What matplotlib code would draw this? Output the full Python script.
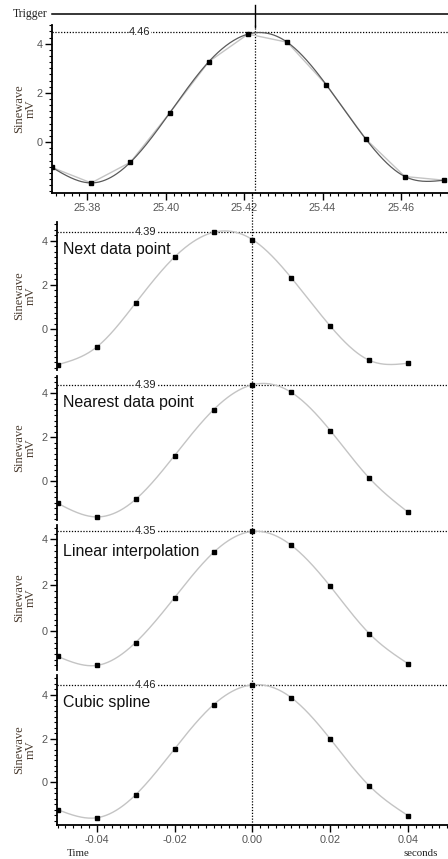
import numpy as np
import matplotlib
matplotlib.use('Agg')
import matplotlib.pyplot as plt
import matplotlib.transforms as mtransforms
from matplotlib.lines import Line2D
from matplotlib.ticker import MultipleLocator, FixedLocator, FormatStrFormatter

plt.rcParams['font.family'] = ['Liberation Sans', 'DejaVu Sans']
plt.rcParams['axes.unicode_minus'] = False

SERIF = ['Liberation Serif', 'DejaVu Serif']

# raw recording around the trigger (top panel)
raw_time = [25.371, 25.381, 25.391, 25.401, 25.411, 25.421,
            25.431, 25.441, 25.451, 25.461, 25.471]
raw_mv = [-1.03, -1.66, -0.82, 1.18, 3.27, 4.39, 4.06, 2.32, 0.13, -1.40, -1.55]
trigger_time = 25.4227
trigger_peak = 4.46

# aligned traces (time relative to trigger)
offset_time = [-0.05, -0.04, -0.03, -0.02, -0.01, 0.00, 0.01, 0.02, 0.03, 0.04]
next_mv = [-1.62, -0.82, 1.18, 3.27, 4.39, 4.06, 2.32, 0.13, -1.42, -1.55]
nearest_mv = [-1.02, -1.64, -0.84, 1.16, 3.25, 4.39, 4.04, 2.30, 0.13, -1.43]
linear_mv = [-1.11, -1.50, -0.50, 1.46, 3.43, 4.35, 3.74, 1.95, -0.11, -1.43]
spline_mv = [-1.25, -1.62, -0.57, 1.53, 3.55, 4.46, 3.87, 1.98, -0.16, -1.53]

panel_titles = ['Next data point', 'Nearest data point', 'Linear interpolation', 'Cubic spline']
panel_peaks = [4.39, 4.39, 4.35, 4.46]
panel_series = [next_mv, nearest_mv, linear_mv, spline_mv]

W, H = 448, 859
DOT = (0, (1, 1.3))


def natural_spline(x, y, num=400):
    x = np.asarray(x, float)
    y = np.asarray(y, float)
    n = len(x)
    h = np.diff(x)
    A = np.zeros((n, n))
    b = np.zeros(n)
    A[0, 0] = A[-1, -1] = 1
    for i in range(1, n - 1):
        A[i, i - 1] = h[i - 1]
        A[i, i] = 2 * (h[i - 1] + h[i])
        A[i, i + 1] = h[i]
        b[i] = 6 * ((y[i + 1] - y[i]) / h[i] - (y[i] - y[i - 1]) / h[i - 1])
    M = np.linalg.solve(A, b)
    xs = np.linspace(x[0], x[-1], num)
    idx = np.clip(np.searchsorted(x, xs) - 1, 0, n - 2)
    x0, x1 = x[idx], x[idx + 1]
    hh = x1 - x0
    a = (x1 - xs) / hh
    bb = (xs - x0) / hh
    ys = a * y[idx] + bb * y[idx + 1] + ((a ** 3 - a) * M[idx] + (bb ** 3 - bb) * M[idx + 1]) * hh ** 2 / 6
    return xs, ys


def px_axes(left, top, bottom):
    return [left / W, 1 - bottom / H, 1 - left / W, (bottom - top) / H]


def style_axis(ax, show_x):
    ax.spines['top'].set_visible(False)
    ax.spines['right'].set_visible(False)
    ax.spines['left'].set_linewidth(1.3)
    ax.yaxis.set_major_locator(FixedLocator([0, 2, 4]))
    ax.yaxis.set_minor_locator(MultipleLocator(0.25))
    ax.tick_params(which='major', length=5, width=1, labelsize=7.8,
                   labelcolor='#555555', pad=2)
    ax.tick_params(which='minor', length=2.5, width=0.8)
    ax.xaxis.set_major_formatter(FormatStrFormatter('%.2f'))
    ax.xaxis.set_major_locator(MultipleLocator(0.02))
    ax.xaxis.set_minor_locator(MultipleLocator(0.002))
    if show_x:
        ax.spines['bottom'].set_linewidth(1.3)
    else:
        ax.spines['bottom'].set_visible(False)
        ax.tick_params(which='both', bottom=False, labelbottom=False)
    ax.set_facecolor('none')


def ylabel(ax, xpos):
    ax.text(xpos, 0.5, 'Sinewave\nmV', transform=ax.transAxes, rotation=90,
            ha='center', va='center', fontsize=9, family=SERIF,
            color='#4a3c30', linespacing=0.95)


def peak_line(ax, value, xfrac):
    ax.axhline(value, color='black', ls=DOT, lw=0.9, zorder=1)
    trans = mtransforms.blended_transform_factory(ax.transAxes, ax.transData)
    ax.text(xfrac, value, f'{value:.2f}', transform=trans, ha='center', va='center',
            fontsize=8, color='#222222', zorder=3,
            bbox=dict(facecolor='white', edgecolor='none', pad=0.2))


fig = plt.figure(figsize=(W / 100, H / 100), dpi=100)

# top panel
ax0 = fig.add_axes(px_axes(52, 25, 193))
style_axis(ax0, True)
ax0.plot(raw_time, raw_mv, color='#c4c4c4', lw=1.0, zorder=2)
sx, sy = natural_spline(raw_time, raw_mv)
ax0.plot(sx, sy, color='#5a5a5a', lw=0.9, zorder=2)
ax0.plot(raw_time, raw_mv, 's', ms=2.6, color='black', zorder=4)
ax0.set_xlim(25.371, 25.472)
ax0.set_ylim(-2.07, 4.76)
peak_line(ax0, trigger_peak, 0.222)
ax0.axvline(trigger_time, color='black', ls=DOT, lw=0.9, zorder=1)
ylabel(ax0, -0.068)

# trigger strip
fig.add_artist(Line2D([52 / W, 1.0], [1 - 14 / H] * 2, transform=fig.transFigure,
                      color='black', lw=1.1))
fig.text(30 / W, 1 - 14 / H, 'Trigger', ha='center', va='center',
         fontsize=8.5, family=SERIF, color='#222222')
trig_tr = mtransforms.blended_transform_factory(ax0.transData, fig.transFigure)
fig.add_artist(Line2D([trigger_time] * 2, [1 - 5 / H, 1 - 27 / H], transform=trig_tr,
                      color='black', lw=1.0))

# aligned panels
panel_px = [(222, 370), (376, 520), (525, 670), (675, 825)]
panel_ylims = [(-1.86, 4.86), (-1.78, 4.79), (-1.70, 4.63), (-1.95, 4.91)]
axes = []
for i, (title, peak, series) in enumerate(zip(panel_titles, panel_peaks, panel_series)):
    top, bottom = panel_px[i]
    ax = fig.add_axes(px_axes(57.3, top, bottom))
    last = i == len(panel_titles) - 1
    style_axis(ax, last)
    sx, sy = natural_spline(offset_time, series)
    ax.plot(sx, sy, color='#c4c4c4', lw=1.0, zorder=2)
    ax.plot(offset_time, series, 's', ms=2.6, color='black', zorder=4)
    ax.set_xlim(-0.0501, 0.0502)
    ax.set_ylim(*panel_ylims[i])
    peak_line(ax, peak, 0.227)
    ax.text(0.015, 0.815, title, transform=ax.transAxes, ha='left', va='center',
            fontsize=11.5, color='#111111', zorder=5)
    ylabel(ax, -0.082)
    axes.append(ax)

ax_last = axes[-1]
# trigger marker through the aligned panels
vt = mtransforms.blended_transform_factory(ax_last.transData, fig.transFigure)
fig.add_artist(Line2D([0, 0], [1 - 825 / H, 1 - 193 / H], transform=vt,
                      color='black', ls=DOT, lw=0.9))

fig.text(78 / W, 1 - 853 / H, 'Time', ha='center', va='center',
         fontsize=7.8, family=SERIF, color='#222222')
fig.text(421 / W, 1 - 853 / H, 'seconds', ha='center', va='center',
         fontsize=7.8, family=SERIF, color='#222222')

fig.savefig('out.png', dpi=100, facecolor='white')
